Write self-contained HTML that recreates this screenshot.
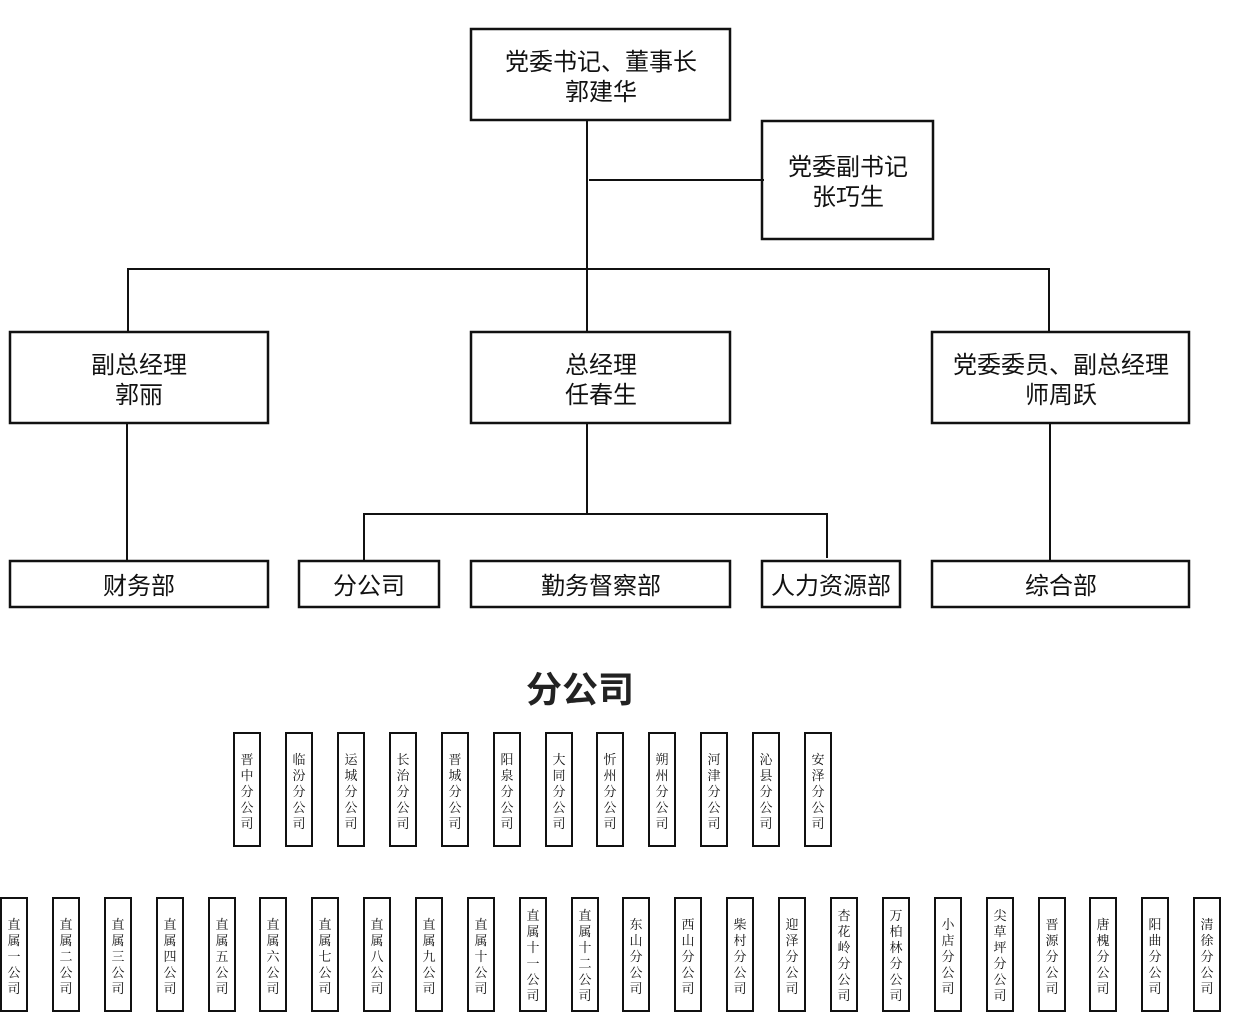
<!DOCTYPE html>
<html><head><meta charset="utf-8"><style>
html,body{margin:0;padding:0;background:#fff;}
svg{display:block;}
.m{font-family:"Liberation Sans","Noto Sans CJK SC",sans-serif;font-size:24px;fill:#111;text-anchor:middle;}
.s{font-family:"Liberation Serif","Noto Serif CJK SC",serif;font-size:13px;fill:#111;text-anchor:middle;}
</style></head><body>
<svg width="1241" height="1034" xmlns="http://www.w3.org/2000/svg">
<g fill="none" stroke="#111" stroke-width="2.5">
<rect x="471" y="29" width="259" height="91"/>
<rect x="762" y="121" width="171" height="118"/>
<rect x="10" y="332" width="258" height="91"/>
<rect x="471" y="332" width="259" height="91"/>
<rect x="932" y="332" width="257" height="91"/>
<rect x="10" y="561" width="258" height="46"/>
<rect x="299" y="561" width="140" height="46"/>
<rect x="471" y="561" width="259" height="46"/>
<rect x="762" y="561" width="138" height="46"/>
<rect x="932" y="561" width="257" height="46"/>
</g>
<g stroke="#111" stroke-width="2">
<line x1="587" y1="120" x2="587" y2="332"/>
<line x1="589" y1="180" x2="764" y2="180"/>
<line x1="127" y1="269" x2="1050" y2="269"/>
<line x1="128" y1="268" x2="128" y2="332"/>
<line x1="1049" y1="268" x2="1049" y2="332"/>
<line x1="127" y1="423" x2="127" y2="561"/>
<line x1="587" y1="423" x2="587" y2="514"/>
<line x1="363" y1="514" x2="828" y2="514"/>
<line x1="364" y1="513" x2="364" y2="561"/>
<line x1="827" y1="513" x2="827" y2="558"/>
<line x1="1050" y1="423" x2="1050" y2="560"/>
</g>
<text class="m" x="601" y="70">党委书记、董事长</text>
<text class="m" x="601" y="100">郭建华</text>
<text class="m" x="848" y="175">党委副书记</text>
<text class="m" x="848" y="205">张巧生</text>
<text class="m" x="139" y="373">副总经理</text>
<text class="m" x="139" y="403">郭丽</text>
<text class="m" x="601" y="373">总经理</text>
<text class="m" x="601" y="403">任春生</text>
<text class="m" x="1061" y="373">党委委员、副总经理</text>
<text class="m" x="1061" y="403">师周跃</text>
<text class="m" x="139" y="594">财务部</text>
<text class="m" x="369" y="594">分公司</text>
<text class="m" x="601" y="594">勤务督察部</text>
<text class="m" x="831" y="594">人力资源部</text>
<text class="m" x="1061" y="594">综合部</text>
<text x="580" y="702" style="font-family:'Liberation Sans','Noto Sans CJK SC',sans-serif;font-size:36px;font-weight:bold;fill:#222;text-anchor:middle">分公司</text>
<g id="r1"></g>
<g fill="none" stroke="#111" stroke-width="2">
<rect x="234" y="733" width="26" height="113"/><rect x="286" y="733" width="26" height="113"/><rect x="338" y="733" width="26" height="113"/><rect x="390" y="733" width="26" height="113"/><rect x="442" y="733" width="26" height="113"/><rect x="494" y="733" width="26" height="113"/><rect x="546" y="733" width="26" height="113"/><rect x="597" y="733" width="26" height="113"/><rect x="649" y="733" width="26" height="113"/><rect x="701" y="733" width="26" height="113"/><rect x="753" y="733" width="26" height="113"/><rect x="805" y="733" width="26" height="113"/>
</g>
<g class="s">
<text class="s" x="247" y="764">晋</text><text class="s" x="247" y="780">中</text><text class="s" x="247" y="796">分</text><text class="s" x="247" y="812">公</text><text class="s" x="247" y="828">司</text>
<text class="s" x="299" y="764">临</text><text class="s" x="299" y="780">汾</text><text class="s" x="299" y="796">分</text><text class="s" x="299" y="812">公</text><text class="s" x="299" y="828">司</text>
<text class="s" x="351" y="764">运</text><text class="s" x="351" y="780">城</text><text class="s" x="351" y="796">分</text><text class="s" x="351" y="812">公</text><text class="s" x="351" y="828">司</text>
<text class="s" x="403" y="764">长</text><text class="s" x="403" y="780">治</text><text class="s" x="403" y="796">分</text><text class="s" x="403" y="812">公</text><text class="s" x="403" y="828">司</text>
<text class="s" x="455" y="764">晋</text><text class="s" x="455" y="780">城</text><text class="s" x="455" y="796">分</text><text class="s" x="455" y="812">公</text><text class="s" x="455" y="828">司</text>
<text class="s" x="507" y="764">阳</text><text class="s" x="507" y="780">泉</text><text class="s" x="507" y="796">分</text><text class="s" x="507" y="812">公</text><text class="s" x="507" y="828">司</text>
<text class="s" x="559" y="764">大</text><text class="s" x="559" y="780">同</text><text class="s" x="559" y="796">分</text><text class="s" x="559" y="812">公</text><text class="s" x="559" y="828">司</text>
<text class="s" x="610" y="764">忻</text><text class="s" x="610" y="780">州</text><text class="s" x="610" y="796">分</text><text class="s" x="610" y="812">公</text><text class="s" x="610" y="828">司</text>
<text class="s" x="662" y="764">朔</text><text class="s" x="662" y="780">州</text><text class="s" x="662" y="796">分</text><text class="s" x="662" y="812">公</text><text class="s" x="662" y="828">司</text>
<text class="s" x="714" y="764">河</text><text class="s" x="714" y="780">津</text><text class="s" x="714" y="796">分</text><text class="s" x="714" y="812">公</text><text class="s" x="714" y="828">司</text>
<text class="s" x="766" y="764">沁</text><text class="s" x="766" y="780">县</text><text class="s" x="766" y="796">分</text><text class="s" x="766" y="812">公</text><text class="s" x="766" y="828">司</text>
<text class="s" x="818" y="764">安</text><text class="s" x="818" y="780">泽</text><text class="s" x="818" y="796">分</text><text class="s" x="818" y="812">公</text><text class="s" x="818" y="828">司</text>
</g>
<g fill="none" stroke="#111" stroke-width="2">
<rect x="1" y="898" width="26" height="113"/><rect x="53" y="898" width="26" height="113"/><rect x="105" y="898" width="26" height="113"/><rect x="157" y="898" width="26" height="113"/><rect x="209" y="898" width="26" height="113"/><rect x="260" y="898" width="26" height="113"/><rect x="312" y="898" width="26" height="113"/><rect x="364" y="898" width="26" height="113"/><rect x="416" y="898" width="26" height="113"/><rect x="468" y="898" width="26" height="113"/><rect x="520" y="898" width="26" height="113"/><rect x="572" y="898" width="26" height="113"/>
<rect x="623" y="898" width="26" height="113"/><rect x="675" y="898" width="26" height="113"/><rect x="727" y="898" width="26" height="113"/><rect x="779" y="898" width="26" height="113"/><rect x="831" y="898" width="26" height="113"/><rect x="883" y="898" width="26" height="113"/><rect x="935" y="898" width="26" height="113"/><rect x="987" y="898" width="26" height="113"/><rect x="1039" y="898" width="26" height="113"/><rect x="1090" y="898" width="26" height="113"/><rect x="1142" y="898" width="26" height="113"/><rect x="1194" y="898" width="26" height="113"/>
</g>
<g>
<text class="s" x="14" y="929">直</text><text class="s" x="14" y="945">属</text><text class="s" x="14" y="961">一</text><text class="s" x="14" y="977">公</text><text class="s" x="14" y="993">司</text>
<text class="s" x="66" y="929">直</text><text class="s" x="66" y="945">属</text><text class="s" x="66" y="961">二</text><text class="s" x="66" y="977">公</text><text class="s" x="66" y="993">司</text>
<text class="s" x="118" y="929">直</text><text class="s" x="118" y="945">属</text><text class="s" x="118" y="961">三</text><text class="s" x="118" y="977">公</text><text class="s" x="118" y="993">司</text>
<text class="s" x="170" y="929">直</text><text class="s" x="170" y="945">属</text><text class="s" x="170" y="961">四</text><text class="s" x="170" y="977">公</text><text class="s" x="170" y="993">司</text>
<text class="s" x="222" y="929">直</text><text class="s" x="222" y="945">属</text><text class="s" x="222" y="961">五</text><text class="s" x="222" y="977">公</text><text class="s" x="222" y="993">司</text>
<text class="s" x="273" y="929">直</text><text class="s" x="273" y="945">属</text><text class="s" x="273" y="961">六</text><text class="s" x="273" y="977">公</text><text class="s" x="273" y="993">司</text>
<text class="s" x="325" y="929">直</text><text class="s" x="325" y="945">属</text><text class="s" x="325" y="961">七</text><text class="s" x="325" y="977">公</text><text class="s" x="325" y="993">司</text>
<text class="s" x="377" y="929">直</text><text class="s" x="377" y="945">属</text><text class="s" x="377" y="961">八</text><text class="s" x="377" y="977">公</text><text class="s" x="377" y="993">司</text>
<text class="s" x="429" y="929">直</text><text class="s" x="429" y="945">属</text><text class="s" x="429" y="961">九</text><text class="s" x="429" y="977">公</text><text class="s" x="429" y="993">司</text>
<text class="s" x="481" y="929">直</text><text class="s" x="481" y="945">属</text><text class="s" x="481" y="961">十</text><text class="s" x="481" y="977">公</text><text class="s" x="481" y="993">司</text>
<text class="s" x="533" y="920">直</text><text class="s" x="533" y="936">属</text><text class="s" x="533" y="952">十</text><text class="s" x="533" y="968">一</text><text class="s" x="533" y="984">公</text><text class="s" x="533" y="1000">司</text>
<text class="s" x="585" y="920">直</text><text class="s" x="585" y="936">属</text><text class="s" x="585" y="952">十</text><text class="s" x="585" y="968">二</text><text class="s" x="585" y="984">公</text><text class="s" x="585" y="1000">司</text>
<text class="s" x="636" y="929">东</text><text class="s" x="636" y="945">山</text><text class="s" x="636" y="961">分</text><text class="s" x="636" y="977">公</text><text class="s" x="636" y="993">司</text>
<text class="s" x="688" y="929">西</text><text class="s" x="688" y="945">山</text><text class="s" x="688" y="961">分</text><text class="s" x="688" y="977">公</text><text class="s" x="688" y="993">司</text>
<text class="s" x="740" y="929">柴</text><text class="s" x="740" y="945">村</text><text class="s" x="740" y="961">分</text><text class="s" x="740" y="977">公</text><text class="s" x="740" y="993">司</text>
<text class="s" x="792" y="929">迎</text><text class="s" x="792" y="945">泽</text><text class="s" x="792" y="961">分</text><text class="s" x="792" y="977">公</text><text class="s" x="792" y="993">司</text>
<text class="s" x="844" y="920">杏</text><text class="s" x="844" y="936">花</text><text class="s" x="844" y="952">岭</text><text class="s" x="844" y="968">分</text><text class="s" x="844" y="984">公</text><text class="s" x="844" y="1000">司</text>
<text class="s" x="896" y="920">万</text><text class="s" x="896" y="936">柏</text><text class="s" x="896" y="952">林</text><text class="s" x="896" y="968">分</text><text class="s" x="896" y="984">公</text><text class="s" x="896" y="1000">司</text>
<text class="s" x="948" y="929">小</text><text class="s" x="948" y="945">店</text><text class="s" x="948" y="961">分</text><text class="s" x="948" y="977">公</text><text class="s" x="948" y="993">司</text>
<text class="s" x="1000" y="920">尖</text><text class="s" x="1000" y="936">草</text><text class="s" x="1000" y="952">坪</text><text class="s" x="1000" y="968">分</text><text class="s" x="1000" y="984">公</text><text class="s" x="1000" y="1000">司</text>
<text class="s" x="1052" y="929">晋</text><text class="s" x="1052" y="945">源</text><text class="s" x="1052" y="961">分</text><text class="s" x="1052" y="977">公</text><text class="s" x="1052" y="993">司</text>
<text class="s" x="1103" y="929">唐</text><text class="s" x="1103" y="945">槐</text><text class="s" x="1103" y="961">分</text><text class="s" x="1103" y="977">公</text><text class="s" x="1103" y="993">司</text>
<text class="s" x="1155" y="929">阳</text><text class="s" x="1155" y="945">曲</text><text class="s" x="1155" y="961">分</text><text class="s" x="1155" y="977">公</text><text class="s" x="1155" y="993">司</text>
<text class="s" x="1207" y="929">清</text><text class="s" x="1207" y="945">徐</text><text class="s" x="1207" y="961">分</text><text class="s" x="1207" y="977">公</text><text class="s" x="1207" y="993">司</text>
</g>
</svg>
</body></html>
